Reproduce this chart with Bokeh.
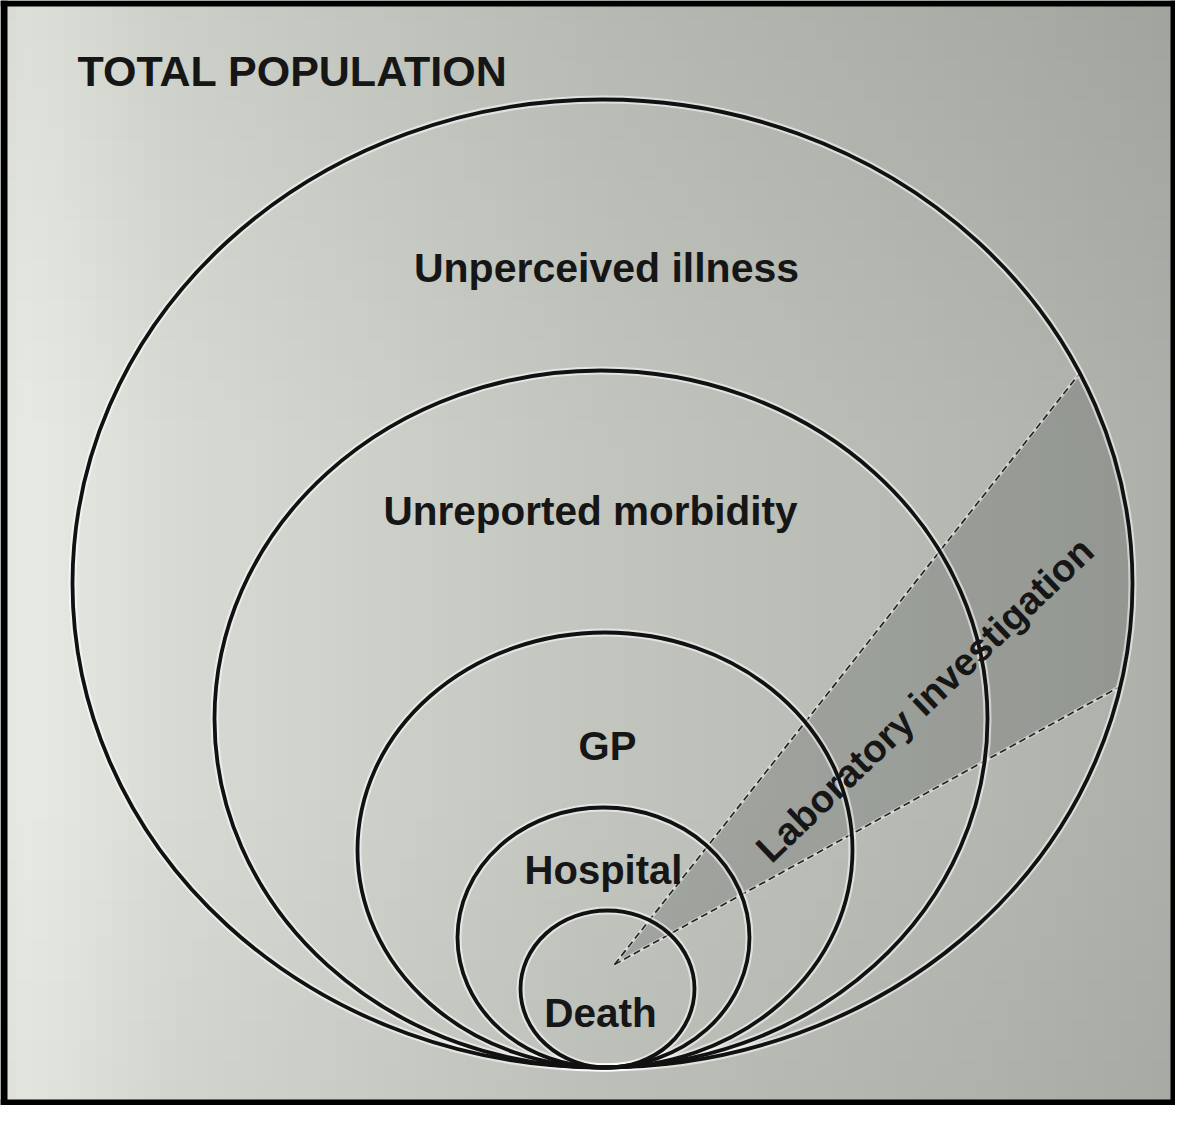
import numpy as np
from bokeh.plotting import figure
from bokeh.models import Range1d, ColumnDataSource
from bokeh.core.properties import value
from bokeh.embed import file_html
from bokeh.resources import INLINE

# ---------------- data (measured in reference-picture pixels) ----------------
levels = ["Unperceived illness", "Unreported morbidity", "GP", "Hospital", "Death"]
ring_left = [80, 222, 365, 465, 528]
ring_right = [1140, 995, 860, 757, 702]
ring_top = [107, 378, 640, 815, 918]
ring_bottom = 1075          # all rings touch at the bottom

title_text = "TOTAL POPULATION"
wedge_text = "Laboratory investigation"
wedge_apex = [622, 972]
wedge_edge_deg = [51.8, 28.8]   # upper / lower edge, degrees above horizontal

# ---------------- layout / style ----------------
M = 8                      # page margin: data units == page pixels
PW, PH = 1175, 1105
X0, X1 = M, M + PW
Y0, Y1 = M, M + PH
FONT = value("Liberation Sans")
label_x = [614, 598, 615, 611, 608]
label_base = [275, 518, 753, 877, 1020]
label_size = [41, 40.5, 40, 40, 40.5]

p = figure(width=PW, height=PH, x_range=Range1d(X0, X1), y_range=Range1d(Y1, Y0),
           x_axis_type=None, y_axis_type=None, toolbar_location=None,
           output_backend="svg", min_border=0)
p.grid.visible = False
p.outline_line_color = None
p.background_fill_color = "#c4c8c0"
p.border_fill_color = "white"

# background: scanned page tone (light on the left, darker right and top)
cw, ch = 16, 20
gxs = np.arange(X0, X1, cw)
gys = np.arange(Y0, Y1, ch)
GX, GY = np.meshgrid(gxs, gys)
vx = np.interp(GX + cw / 2, [0, 25, 60, 180, 600, 1000, 1191],
               [226, 234, 232, 218, 197, 183, 175])
vt = np.interp(GY + ch / 2, [0, 450], [12, 0])
vb = np.interp(GY + ch / 2, [800, 1121], [0, 6])
V = vx - vt - vb
cols = ["#%02x%02x%02x" % (int(v - 3), int(v + 1), int(v - 6)) for v in V.ravel()]
p.quad(left=GX.ravel(), right=GX.ravel() + cw + 1, top=GY.ravel(),
       bottom=GY.ravel() + ch + 1, fill_color=cols, line_color=None)

# rings
cx = [(l + r) / 2 for l, r in zip(ring_left, ring_right)]
rw = [(r - l) for l, r in zip(ring_left, ring_right)]
cy = [(t + ring_bottom) / 2 for t in ring_top]
rh = [(ring_bottom - t) for t in ring_top]

# laboratory wedge (clipped by outer ring)
ax_, ay_ = wedge_apex
ocx, ocy, orx, ory = cx[0], cy[0], rw[0] / 2, rh[0] / 2


def hit(deg):
    a = np.radians(deg)
    dx, dy = np.cos(a), -np.sin(a)
    ux, uy = (ax_ - ocx) / orx, (ay_ - ocy) / ory
    vx_, vy_ = dx / orx, dy / ory
    A = vx_ * vx_ + vy_ * vy_
    B = 2 * (ux * vx_ + uy * vy_)
    C = ux * ux + uy * uy - 1
    t = (-B + np.sqrt(B * B - 4 * A * C)) / (2 * A)
    return ax_ + t * dx, ay_ + t * dy


(ux1, uy1), (lx1, ly1) = hit(wedge_edge_deg[0]), hit(wedge_edge_deg[1])
ph1 = np.arctan2((uy1 - ocy) / ory, (ux1 - ocx) / orx)
ph2 = np.arctan2((ly1 - ocy) / ory, (lx1 - ocx) / orx)
phs = np.linspace(ph1, ph2, 60)
wx = [ax_] + list(ocx + orx * np.cos(phs))
wy = [ay_] + list(ocy + ory * np.sin(phs))
p.patch(wx, wy, fill_color="black", fill_alpha=0.15, line_color=None)
p.segment(x0=[ax_, ax_], y0=[ay_, ay_], x1=[ux1, lx1], y1=[uy1, ly1],
          line_color="white", line_alpha=0.45, line_width=3.5)
p.segment(x0=[ax_, ax_], y0=[ay_, ay_], x1=[ux1, lx1], y1=[uy1, ly1],
          line_color="#262626", line_width=1.7, line_dash="7 4")

src = ColumnDataSource(dict(x=cx, y=cy, w=rw, h=rh))
p.ellipse("x", "y", "w", "h", source=src, fill_color=None,
          line_color="white", line_alpha=0.55, line_width=8)
p.ellipse("x", "y", "w", "h", source=src, fill_color=None,
          line_color="#111111", line_width=3.8)

# labels
for lx, lb, lt, ls in zip(label_x, label_base, levels, label_size):
    p.text(x=[lx], y=[lb], text=[lt], text_font=FONT, text_font_style="bold",
           text_font_size=value("%.1fpx" % ls), text_align="center",
           text_baseline="alphabetic", text_color="#161616")
p.text(x=[85], y=[78], text=[title_text], text_font=FONT, text_font_style="bold",
       text_font_size=value("43px"), text_align="left",
       text_baseline="alphabetic", text_color="#161616")
p.text(x=[932], y=[707], text=[wedge_text], text_font=FONT, text_font_style="bold",
       text_font_size=value("38.5px"), text_align="center",
       text_baseline="middle", text_color="#161616",
       angle=43.7, angle_units="deg")

# black frame of the scan
p.quad(left=[X0, X0, X1 - 5, X0], right=[X0 + 7, X1, X1, X1],
       top=[Y0, Y0, Y0, Y1 - 6], bottom=[Y1, Y0 + 6, Y1, Y1],
       fill_color="black", line_color=None)

open("out.html", "w").write(file_html(p, INLINE))
